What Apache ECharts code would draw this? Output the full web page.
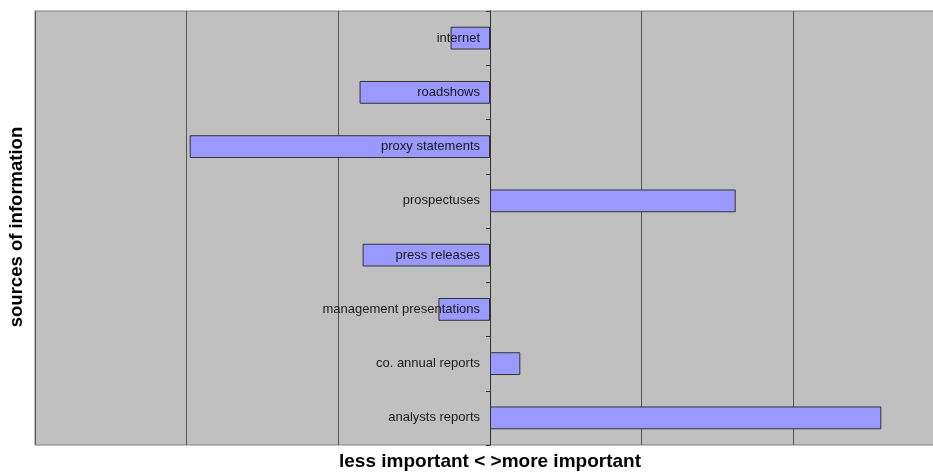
<!DOCTYPE html>
<html>
<head>
<meta charset="utf-8">
<script src="https://cdn.jsdelivr.net/npm/echarts@6/dist/echarts.min.js"></script>
<style>
  html, body { margin: 0; padding: 0; background: #fff; overflow: hidden; }
  #chart { width: 945px; height: 473px; }
</style>
</head>
<body>
<div id="chart"></div>
<script>
// bottom to top, as the category axis draws them
var categories = ['analysts reports', 'co. annual reports', 'management presentations', 'press releases',
  'prospectuses', 'proxy statements', 'roadshows', 'internet']
var importance = [2.58, 0.20, -0.34, -0.84, 1.62, -1.98, -0.86, -0.26]

var myChart = echarts.init(document.getElementById('chart'))
var option = {
  animation: false,
  grid: {
    show: true,
    left: 35,
    right: 0,
    top: 11,
    bottom: 28,
    containLabel: false,
    outerBoundsMode: 'none',
    backgroundColor: '#c0c0c0',
    borderColor: '#808080',
    borderWidth: 1
  },
  xAxis: {
    type: 'value',
    min: -3,
    max: 3,
    interval: 1,
    name: 'less important < >more important',
    nameLocation: 'middle',
    nameGap: 7,
    nameTextStyle: {
      fontFamily: 'Liberation Sans',
      fontWeight: 'bold',
      fontSize: 19,
      color: '#000'
    },
    axisLine: { show: false },
    axisTick: { show: false },
    axisLabel: { show: false },
    splitLine: { lineStyle: { color: '#555', width: 1 } }
  },
  yAxis: {
    type: 'category',
    data: categories,
    z: 5,
    // zero sits 3 of 6 units into the 910px wide plot, so shift the axis there
    offset: -455,
    axisLine: { onZero: false, lineStyle: { color: '#333', width: 1 } },
    axisTick: { show: true, length: 4, lineStyle: { color: '#333' } },
    axisLabel: {
      margin: 10,
      fontFamily: 'Liberation Sans',
      fontSize: 13,
      color: '#1a1a1a'
    },
    splitLine: { show: false }
  },
  graphic: [{
    type: 'text',
    x: 17,
    y: 227,
    rotation: Math.PI / 2,
    style: {
      text: 'sources of information',
      fontFamily: 'Liberation Sans',
      fontWeight: 'bold',
      fontSize: 18.5,
      fill: '#000',
      align: 'center',
      verticalAlign: 'middle'
    }
  }],
  series: [{
    type: 'bar',
    data: importance,
    barWidth: '42%',
    itemStyle: {
      color: '#9999ff',
      borderColor: '#333',
      borderWidth: 1
    }
  }]
}
myChart.setOption(option)
</script>
</body>
</html>
